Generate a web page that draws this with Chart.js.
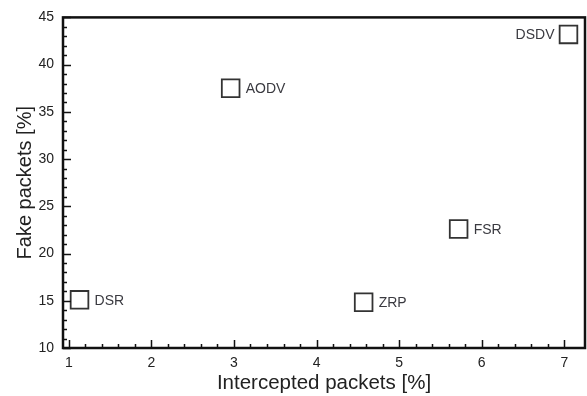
<!DOCTYPE html>
<html lang="en">
<head>
    <meta charset="UTF-8">
    <title>Fake vs intercepted packets</title>
    <script src="https://cdn.jsdelivr.net/npm/chart.js"></script>
    <style>
        html, body { margin: 0; padding: 0; background: #fff; }
        #wrap { width: 587px; height: 396px; }
    </style>
</head>
<body>
    <div id="wrap"><canvas id="chart" width="587" height="396"></canvas></div>

    <script>
        // Data
        const protocols = ['DSR', 'AODV', 'ZRP', 'FSR', 'DSDV'];
        const intercepted = [1.13, 2.96, 4.57, 5.72, 7.05];
        const fake = [15.1, 37.5, 14.85, 22.6, 43.2];
        const labelSide = ['right', 'right', 'right', 'right', 'left'];
        const xTicks = [1, 2, 3, 4, 5, 6, 7];
        const yTicks = [10, 15, 20, 25, 30, 35, 40, 45];

        const points = protocols.map((p, i) => ({ x: intercepted[i], y: fake[i] }));
        const FONT = '"Liberation Sans", Arial, sans-serif';

        // Box frame, inward ticks and point labels
        const framePlugin = {
            id: 'frame',
            afterDatasetsDraw(chart) {
                const { ctx, chartArea: a, scales } = chart;
                const xs = scales.x, ys = scales.y;
                ctx.save();
                ctx.strokeStyle = '#111';
                ctx.lineWidth = 1.5;
                ctx.beginPath();
                // x major + minor ticks
                for (let v = 1; v <= 7.001; v += 0.2) {
                    const px = Math.round(xs.getPixelForValue(v)) + 0.5;
                    const major = Math.abs(v - Math.round(v)) < 0.01;
                    ctx.moveTo(px, a.bottom);
                    ctx.lineTo(px, a.bottom - (major ? 8 : 4));
                }
                for (let v = 10; v <= 45; v += 1) {
                    const py = Math.round(ys.getPixelForValue(v)) + 0.5;
                    const major = v % 5 === 0;
                    ctx.moveTo(a.left, py);
                    ctx.lineTo(a.left + (major ? 8 : 4), py);
                }
                ctx.stroke();

                ctx.lineWidth = 2.5;
                ctx.strokeRect(a.left, a.top, a.right - a.left, a.bottom - a.top);

                // labels next to each square
                ctx.font = '14px ' + FONT;
                ctx.fillStyle = '#3a3a40';
                ctx.textBaseline = 'middle';
                const meta = chart.getDatasetMeta(0);
                meta.data.forEach((el, i) => {
                    if (labelSide[i] === 'left') {
                        ctx.textAlign = 'right';
                        ctx.fillText(protocols[i], el.x - 14, el.y + 1);
                    } else {
                        ctx.textAlign = 'left';
                        ctx.fillText(protocols[i], el.x + 15, el.y + 1);
                    }
                });
                ctx.restore();
            }
        };

        const ctx = document.getElementById('chart').getContext('2d');
        new Chart(ctx, {
            type: 'scatter',
            data: {
                datasets: [{
                    data: points,
                    pointStyle: 'rect',
                    pointRadius: 12.5,
                    pointHoverRadius: 12.5,
                    backgroundColor: 'rgba(255,255,255,0)',
                    borderColor: '#333',
                    borderWidth: 1.8
                }]
            },
            options: {
                responsive: false,
                animation: false,
                layout: {
                    autoPadding: false,
                    padding: { top: 16, right: 2, left: 0, bottom: 0 }
                },
                plugins: {
                    legend: { display: false },
                    tooltip: { enabled: false }
                },
                scales: {
                    x: {
                        type: 'linear',
                        min: 0.93,
                        max: 7.25,
                        afterBuildTicks(scale) {
                            scale.ticks = xTicks.map(v => ({ value: v }));
                        },
                        grid: { display: false, drawTicks: false },
                        border: { display: false },
                        ticks: {
                            padding: 7,
                            color: '#222',
                            font: { size: 14, family: FONT }
                        },
                        title: {
                            display: true,
                            text: 'Intercepted packets [%]',
                            color: '#222',
                            font: { size: 20.5, family: FONT },
                            padding: { top: 0, bottom: 0 }
                        },
                        afterFit(scale) {
                            scale.height = 48;
                            scale.paddingLeft = 0;
                            scale.paddingRight = 0;
                        }
                    },
                    y: {
                        type: 'linear',
                        min: 10,
                        max: 45,
                        afterBuildTicks(scale) {
                            scale.ticks = yTicks.map(v => ({ value: v }));
                        },
                        grid: { display: false, drawTicks: false },
                        border: { display: false },
                        ticks: {
                            padding: 9,
                            color: '#222',
                            font: { size: 14, family: FONT }
                        },
                        title: {
                            display: true,
                            text: 'Fake packets [%]',
                            color: '#222',
                            font: { size: 20, family: FONT },
                            padding: { top: 13, bottom: 0 }
                        },
                        afterFit(scale) { scale.width = 63; }
                    }
                }
            },
            plugins: [framePlugin]
        });
    </script>
</body>
</html>
